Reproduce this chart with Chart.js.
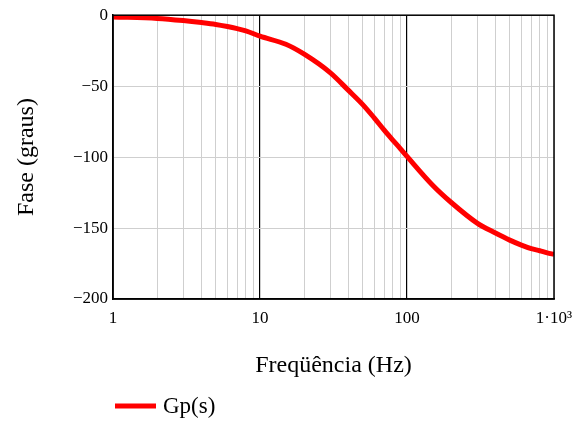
<!DOCTYPE html>
<html>
<head>
<meta charset="utf-8">
<script src="https://cdn.jsdelivr.net/npm/chart.js@4/dist/chart.umd.min.js"></script>
<style>
  html, body { margin: 0; padding: 0; background: #fff; }
</style>
</head>
<body>
<canvas id="c" width="576" height="422"></canvas>
<script>
// frequência (Hz) e fase (graus)
const freqs = [1, 2, 3, 4, 5, 6, 7, 8, 10, 15, 20, 30, 40, 50, 60, 70, 80, 90, 100, 150, 200, 300, 400, 500, 600, 700, 800, 900, 1000];
const phase = [-1.2, -2.3, -3.8, -5.2, -6.5, -8, -9.5, -11, -14.8, -20.5, -27.5, -40.5, -53, -63, -72.5, -81, -88, -94, -99.5, -120, -132, -146.5, -153.5, -158.5, -162, -164.5, -166, -167.5, -168.5];
const decades = [1, 10, 100];
const yTicks = [0, -50, -100, -150, -200];
const seriesName = 'Gp(s)';

const serif = '"Liberation Serif", "Times New Roman", serif';

// moldura + legenda desenhada abaixo do eixo
const framePlugin = {
    id: 'frame',
    afterDraw(chart) {
        const { ctx, chartArea: a } = chart;
        ctx.save();
        ctx.strokeStyle = '#000';
        ctx.lineWidth = 1.5;
        ctx.strokeRect(a.left, a.top, a.right - a.left, a.bottom - a.top);
        // legenda
        const y = chart.height - 16;
        ctx.strokeStyle = '#ff0000';
        ctx.lineWidth = 5;
        ctx.beginPath(); ctx.moveTo(a.left + 2, y); ctx.lineTo(a.left + 43, y); ctx.stroke();
        ctx.fillStyle = '#000';
        ctx.font = '23px ' + serif;
        ctx.textBaseline = 'middle';
        ctx.fillText(seriesName, a.left + 50, y + 1);
        ctx.restore();
    }
};

new Chart(document.getElementById('c'), {
    type: 'line',
    data: {
        datasets: [{
            label: seriesName,
            data: freqs.map((f, i) => ({ x: f, y: phase[i] })),
            borderColor: '#ff0000',
            borderWidth: 5,
            pointRadius: 0,
            cubicInterpolationMode: 'monotone',
            fill: false
        }]
    },
    options: {
        responsive: false,
        animation: false,
        layout: { padding: { left: 12, right: 22, top: 11, bottom: 35 } },
        plugins: { legend: { display: false }, tooltip: { enabled: false } },
        scales: {
            x: {
                type: 'logarithmic',
                min: 1, max: 1000,
                afterBuildTicks(scale) {
                    const t = [];
                    decades.forEach(d => { for (let k = 1; k <= 9; k++) t.push({ value: k * d }); });
                    t.push({ value: 1000 });
                    scale.ticks = t;
                },
                afterFit(scale) {
                    scale.height = 88;
                    scale.paddingRight = 0;
                    scale.paddingLeft = 0;
                },
                ticks: {
                    autoSkip: false, maxRotation: 0, padding: 9,
                    color: '#000',
                    font: { family: serif, size: 17 },
                    callback(v) {
                        if (v === 1000) return '1·10³';
                        return [1, 10, 100].includes(v) ? String(v) : '';
                    }
                },
                grid: {
                    drawTicks: false,
                    color: c => (c.tick && (c.tick.value === 10 || c.tick.value === 100)) ? '#000' : '#cfcfcf',
                    lineWidth: c => (c.tick && (c.tick.value === 10 || c.tick.value === 100)) ? 1.2 : 1
                },
                border: { color: '#000', width: 1.5 },
                title: {
                    display: true, text: 'Freqüência (Hz)', color: '#000',
                    font: { family: serif, size: 24 },
                    padding: { top: 0, bottom: 7 }
                }
            },
            y: {
                min: -200, max: 0,
                afterBuildTicks(scale) { scale.ticks = yTicks.map(v => ({ value: v })); },
                afterFit(scale) { scale.width = 101; },
                ticks: {
                    padding: 5, color: '#000',
                    font: { family: serif, size: 17 },
                    callback: v => v < 0 ? '\u2212' + Math.abs(v) : String(v)
                },
                grid: { drawTicks: false, color: '#cfcfcf' },
                border: { color: '#000', width: 1.5 },
                title: {
                    display: true, text: 'Fase (graus)', color: '#000',
                    font: { family: serif, size: 24 },
                    padding: 0
                }
            }
        }
    },
    plugins: [framePlugin]
});
</script>
</body>
</html>
